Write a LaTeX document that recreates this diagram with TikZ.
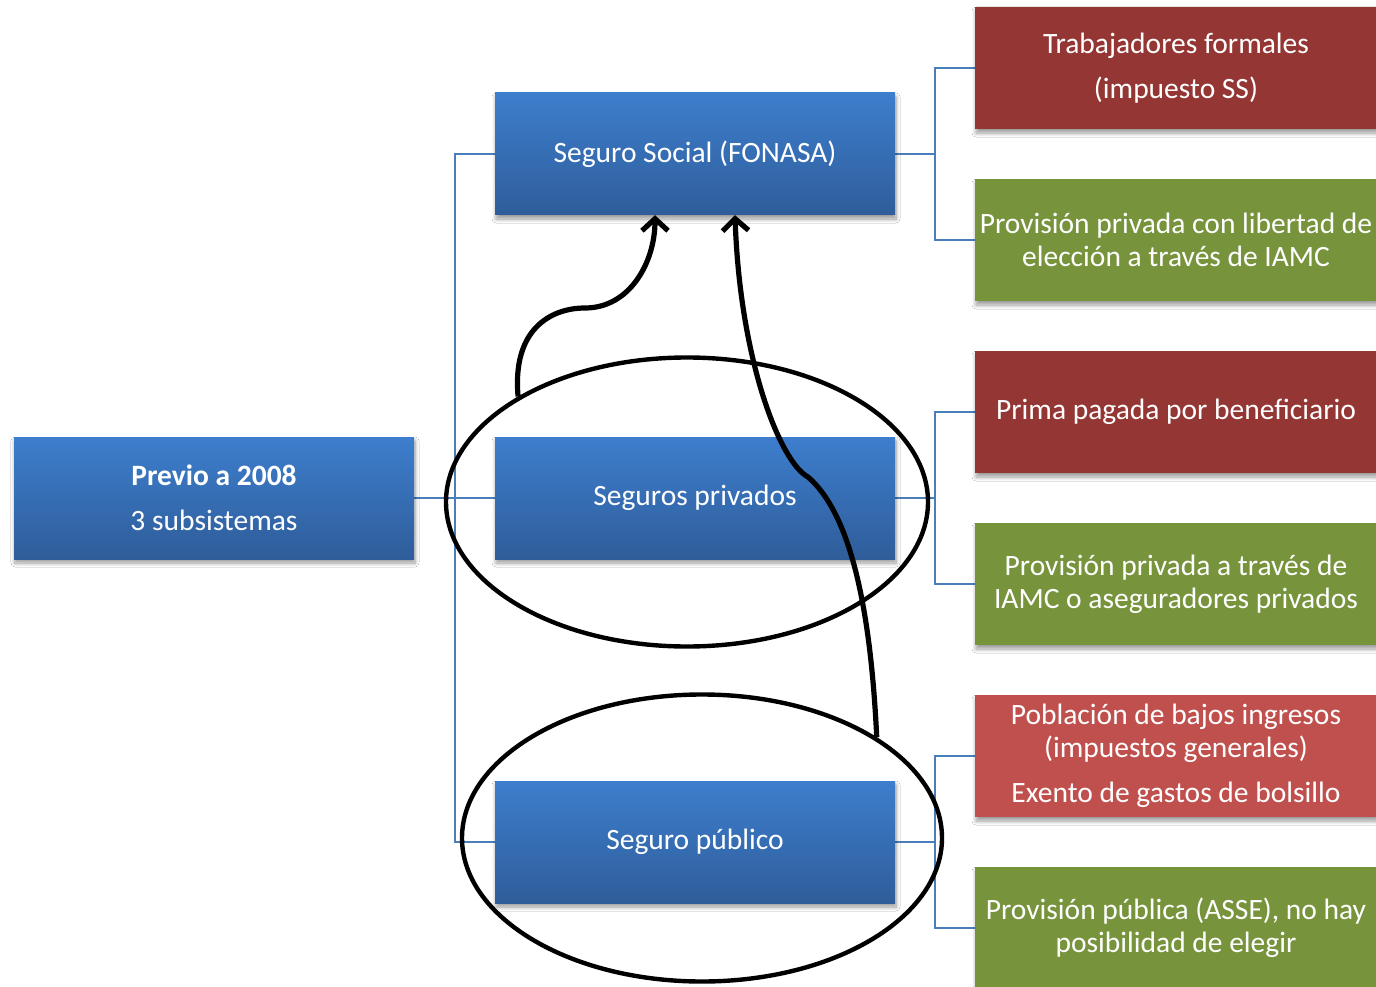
\documentclass[tikz,border=0pt]{standalone}
\usepackage{fontspec}
\setmainfont{Carlito}
\usetikzlibrary{shapes.geometric,arrows.meta,shadows.blur}

\definecolor{bluetop}{HTML}{3D7ECD}
\definecolor{bluebot}{HTML}{2F5D9A}
\definecolor{darkred}{HTML}{943634}
\definecolor{lightred}{HTML}{C0504D}
\definecolor{olive}{HTML}{77933C}
\definecolor{linkblue}{HTML}{4A7EBB}

\tikzset{
  boxbase/.style={rectangle, inner sep=0pt, text=white, align=center,
    font=\fontsize{29.5}{33}\selectfont,
    blur shadow={shadow xshift=1pt, shadow yshift=-4pt,
      shadow blur radius=4pt, shadow blur steps=8, shadow opacity=40}},
  frame/.style={rectangle, inner sep=0pt, minimum width=#1, minimum height=122pt},
  bluebox/.style={boxbase, minimum width=400pt, minimum height=122pt,
    top color=bluetop, bottom color=bluebot},
  sidebox/.style={boxbase, minimum width=402pt, minimum height=122pt, fill=#1},
  link/.style={draw=linkblue, line width=1.8pt},
  ring/.style={ellipse, draw=black, line width=4.4pt, inner sep=0pt},
  bigarrow/.style={draw=black, line width=5.2pt,
    -{Straight Barb[length=12pt,width=26pt,line width=5.2pt]}}
}

\begin{document}
\begin{tikzpicture}[x=1pt,y=-1pt]
  \useasboundingbox (0,0) rectangle (1376,987);
  \fill[white] (0,0) rectangle (1376,987);

  % box frames, used to route the tree connectors
  \node[frame=400pt] (prevB) at (214,498) {};
  \node[frame=400pt] (ssB)   at (695,154) {};
  \node[frame=400pt] (privB) at (695,498) {};
  \node[frame=400pt] (pubB)  at (695,842) {};
  \node[frame=402pt] (r1) at (1176,68)  {};
  \node[frame=402pt] (r2) at (1176,240) {};
  \node[frame=402pt] (r3) at (1176,412) {};
  \node[frame=402pt] (r4) at (1176,584) {};
  \node[frame=402pt] (r5) at (1176,756) {};
  \node[frame=402pt] (r6) at (1176,928) {};

  % tree connectors (drawn first, boxes cover their ends)
  \draw[link] (prevB.east) -- ++(41,0) |- (ssB.west);
  \draw[link] (prevB.east) -- ++(41,0) |- (pubB.west);
  \draw[link] (prevB.east) -- (privB.west);
  \draw[link] (ssB.east) -- ++(40,0) |- (r1.west);
  \draw[link] (ssB.east) -- ++(40,0) |- (r2.west);
  \draw[link] (privB.east) -- ++(40,0) |- (r3.west);
  \draw[link] (privB.east) -- ++(40,0) |- (r4.west);
  \draw[link] (pubB.east) -- ++(40,0) |- (r5.west);
  \draw[link] (pubB.east) -- ++(40,0) |- (r6.west);

  % main column
  \node[bluebox] at (prevB) {\textbf{Previo a 2008}\\[12pt]3 subsistemas};
  \node[bluebox] at (ssB)   {Seguro Social (FONASA)};
  \node[bluebox] at (privB) {Seguros privados};
  \node[bluebox] at (pubB)  {Seguro público};

  % details of each subsystem
  \node[sidebox=darkred]  at (r1) {Trabajadores formales\\[12pt](impuesto SS)};
  \node[sidebox=olive]    at (r2) {Provisión privada con libertad de\\elección a través de IAMC};
  \node[sidebox=darkred]  at (r3) {Prima pagada por beneficiario};
  \node[sidebox=olive]    at (r4) {Provisión privada a través de\\IAMC o aseguradores privados};
  \node[sidebox=lightred] at (r5) {Población de bajos ingresos\\(impuestos generales)\\[12pt]Exento de gastos de bolsillo};
  \node[sidebox=olive]    at (r6) {Provisión pública (ASSE), no hay\\posibilidad de elegir};

  % highlighted subsystems
  \node[ring, minimum width=482pt, minimum height=289pt] (e1) at (687,502) {};
  \node[ring, minimum width=480pt, minimum height=287pt] (e2) at (702,838) {};

  % migration arrows towards the social insurance
  \draw[bigarrow] (e1.148.5) .. controls (512,330) and (550,308) .. (585,308)
    .. controls (630,308) and (655,262) .. ([xshift=-40pt]ssB.south);
  \draw[bigarrow] (e2.30.3) .. controls (872,640) and (858,520) .. (808,477)
    .. controls (780,462) and (740,360) .. ([xshift=40pt]ssB.south);
\end{tikzpicture}
\end{document}
